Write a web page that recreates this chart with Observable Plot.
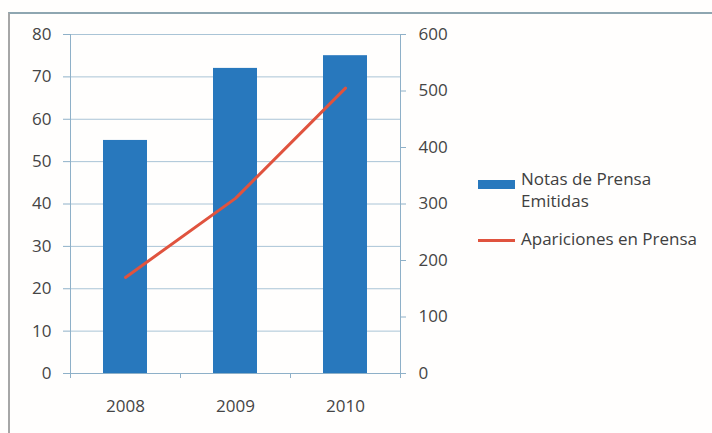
<!DOCTYPE html>
<html>
<head>
<meta charset="utf-8">
<script src="https://cdn.jsdelivr.net/npm/d3@7"></script>
<script src="https://cdn.jsdelivr.net/npm/@observablehq/plot@0.6"></script>
<style>
  html, body { margin: 0; padding: 0; background: #fff; }
  #wrap { position: relative; width: 712px; height: 433px; overflow: hidden; background: #fffefd; font-family: "Open Sans", sans-serif; }
  #frame { position: absolute; left: 8px; top: 12px; width: 730px; height: 450px; border-top: 2px solid #8ea6b1; border-left: 2px solid #a6a6a6; box-sizing: border-box; }
  #chart { position: absolute; left: 0; top: 0; }
  #legend { position: absolute; left: 478px; top: 168px; color: #404040; font-size: 17px; line-height: 22px; }
  .item { position: relative; padding-left: 43px; }
  .sw { position: absolute; left: 0; }
</style>
</head>
<body>
<div id="wrap">
  <div id="frame"></div>
  <div id="chart"></div>
  <div id="legend">
    <div class="item"><span class="sw" style="top:12px;width:37px;height:9px;background:#2878bd"></span>Notas de Prensa<br>Emitidas</div>
    <div class="item" style="margin-top:16px"><span class="sw" style="top:11px;width:37px;height:3px;background:#e0533e"></span>Apariciones en Prensa</div>
  </div>
</div>
<script>
const years = [2008, 2009, 2010];
const notas = [55, 72, 75];
const apariciones = [170, 310, 505];
const leftTicks = [0, 10, 20, 30, 40, 50, 60, 70, 80];
const rightTicks = [0, 100, 200, 300, 400, 500, 600];
const boundaries = [2007.5, 2008.5, 2009.5, 2010.5];

const k = 80 / 600; // right axis -> left axis scale factor
const data = years.map((y, i) => ({ year: y, notas: notas[i], apariciones: apariciones[i] }));

const gridColor = "#aac4d6";
const axisColor = "#8eb0c8";
const textColor = "#454545";

const chart = Plot.plot({
  width: 712,
  height: 433,
  marginLeft: 70,
  marginRight: 312,
  marginTop: 34,
  marginBottom: 60,
  x: { domain: [2007.5, 2010.5] },
  y: { domain: [0, 80] },
  style: { fontFamily: "Open Sans", fontSize: "17px", color: textColor, background: "transparent" },
  marks: [
    Plot.ruleY(leftTicks, { stroke: gridColor, strokeWidth: 1 }),
    Plot.rectY(data, { x1: d => d.year - 0.5, x2: d => d.year + 0.5, y: "notas", insetLeft: 33, insetRight: 33, fill: "#2878bd" }),
    Plot.lineY(data, { x: "year", y: d => d.apariciones * k, stroke: "#e0533e", strokeWidth: 3 }),
    Plot.ruleX([2007.5, 2010.5], { stroke: axisColor, strokeWidth: 1 }),
    Plot.ruleY([0], { stroke: axisColor, strokeWidth: 1 }),
    Plot.axisY(leftTicks, { anchor: "left", tickSize: 7, tickPadding: 12, stroke: axisColor, fill: textColor, label: null }),
    Plot.axisY(rightTicks.map(v => v * k), { anchor: "right", tickSize: 5, tickPadding: 13, stroke: axisColor, fill: textColor, tickFormat: d => String(Math.round(d / k)), label: null }),
    Plot.axisX(boundaries, { tickSize: 5, tickFormat: () => "", stroke: axisColor, label: null }),
    Plot.axisX(years, { tickSize: 0, tickPadding: 26, tickFormat: d => String(d), fill: textColor, label: null })
  ]
});
document.getElementById("chart").appendChild(chart);
</script>
</body>
</html>
